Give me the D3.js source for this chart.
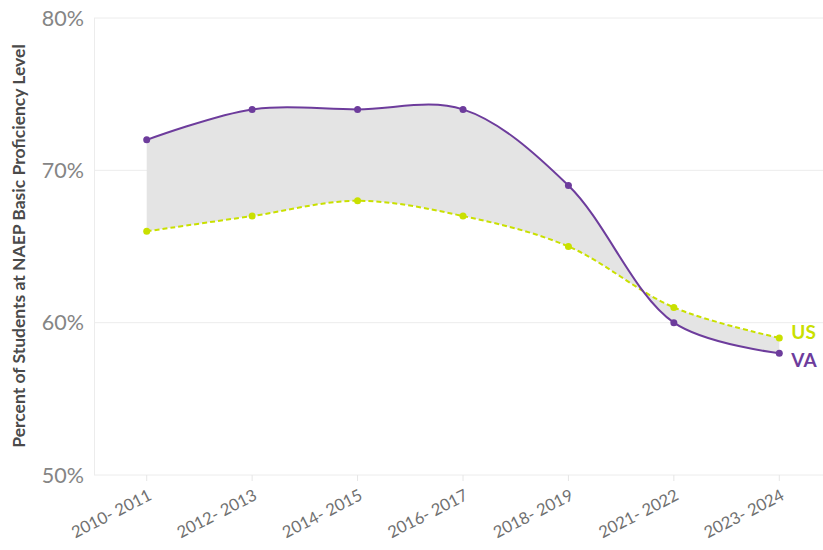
<!DOCTYPE html>
<html><head><meta charset="utf-8">
<script src="https://cdn.jsdelivr.net/npm/d3@7"></script>
<style>body{margin:0;background:#fff}svg{display:block}text{font-family:Lato,"Open Sans",sans-serif}</style>
</head><body>
<svg id="c" width="823" height="550"></svg>
<script>
const categories = ["2010- 2011","2012- 2013","2014- 2015","2016- 2017","2018- 2019","2021- 2022","2023- 2024"];
const vaValues = [72,74,74,74,69,60,58];
const usValues = [66,67,68,67,65,61,59];
const yTicks = [50,60,70,80];

const svg = d3.select("#c");
const x = d3.scalePoint().domain(categories).range([94,832]).padding(0.5);
const y = d3.scaleLinear().domain([50,80]).range([475,18]);

// gridlines
svg.append("g").selectAll("line").data(yTicks).join("line")
  .attr("x1",94).attr("x2",823).attr("y1",d=>y(d)).attr("y2",d=>y(d))
  .attr("stroke","#ececec").attr("stroke-width",1);
svg.append("line").attr("x1",94.5).attr("x2",94.5).attr("y1",18).attr("y2",475).attr("stroke","#ececec");
// x ticks
svg.append("g").selectAll("line").data(categories).join("line")
  .attr("x1",d=>x(d)).attr("x2",d=>x(d)).attr("y1",475).attr("y2",481).attr("stroke","#e6e6e6");

// y tick labels
svg.append("g").selectAll("text").data(yTicks).join("text")
  .attr("x",84).attr("y",d=>y(d)).attr("dy","0.35em").attr("text-anchor","end")
  .attr("fill","#858585").attr("font-size",21.5).text(d=>d+"%");

// x tick labels
svg.append("g").selectAll("text").data(categories).join("text")
  .attr("transform",d=>`translate(${x(d)+6},${499}) rotate(-27)`)
  .attr("text-anchor","end").attr("fill","#707070").attr("font-size",16.5).text(d=>d);

// y axis title
svg.append("text").attr("transform","translate(25,246) rotate(-90)")
  .attr("text-anchor","middle").attr("font-size",17.5).attr("font-weight","bold").attr("fill","#4a4a4a")
  .text("Percent of Students at NAEP Basic Proficiency Level");

const curve = d3.curveCatmullRom.alpha(0.5);
const idx = categories.map((c,i)=>i);
const area = d3.area().x(i=>x(categories[i])).y0(i=>y(usValues[i])).y1(i=>y(vaValues[i])).curve(curve);
svg.append("path").attr("d",area(idx)).attr("fill","#e4e4e4");

const lineVA = d3.line().x(i=>x(categories[i])).y(i=>y(vaValues[i])).curve(curve);
const lineUS = d3.line().x(i=>x(categories[i])).y(i=>y(usValues[i])).curve(curve);
const purple = "#6d3c9c", green = "#c9e000";
svg.append("path").attr("d",lineUS(idx)).attr("fill","none").attr("stroke",green).attr("stroke-width",2).attr("stroke-dasharray","5,3");
svg.append("path").attr("d",lineVA(idx)).attr("fill","none").attr("stroke",purple).attr("stroke-width",2);

svg.append("g").selectAll("circle").data(idx).join("circle")
  .attr("cx",i=>x(categories[i])).attr("cy",i=>y(usValues[i])).attr("r",3.5).attr("fill",green);
svg.append("g").selectAll("circle").data(idx).join("circle")
  .attr("cx",i=>x(categories[i])).attr("cy",i=>y(vaValues[i])).attr("r",3.5).attr("fill",purple);

const last = categories.length-1;
svg.append("text").attr("x",x(categories[last])+12).attr("y",y(usValues[last])-6).attr("dy","0.35em")
  .attr("font-size",19).attr("font-weight","bold").attr("fill",green).text("US");
svg.append("text").attr("x",x(categories[last])+12).attr("y",y(vaValues[last])+7).attr("dy","0.35em")
  .attr("font-size",19).attr("font-weight","bold").attr("fill",purple).text("VA");
</script>
</body></html>
